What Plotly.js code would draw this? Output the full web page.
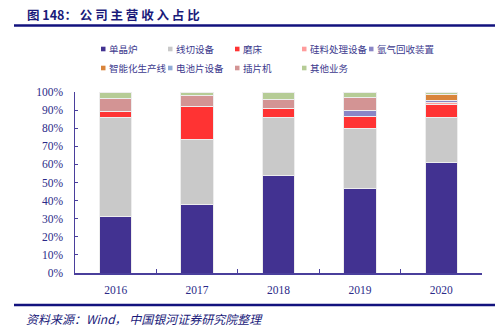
<!DOCTYPE html>
<html>
<head>
<meta charset="utf-8">
<script src="https://cdn.plot.ly/plotly-3.0.1.min.js"></script>
<style>html,body{margin:0;padding:0;background:#fff;}#chart{width:503px;height:333px;}</style>
</head>
<body>
<div id="chart"></div>
<script>
const years = ['2016', '2017', '2018', '2019', '2020'];
const seriesNames = ['单晶炉', '线切设备', '磨床', '硅料处理设备', '氩气回收装置', '智能化生产线', '电池片设备', '插片机', '其他业务'];
const danjinglu   = [31.4, 38.0, 53.6, 46.8, 61.1];
const xianqie     = [54.3, 35.9, 32.1, 32.8, 24.8];
const mochuang    = [3.8, 18.2, 5.3, 7.0, 7.2];
const guiliao     = [0, 0, 0, 0, 1.1];
const yaqi        = [0, 0, 0, 3.3, 1.1];
const zhineng     = [0, 0, 0, 0, 3.3];
const dianchipian = [0, 0, 0, 0, 0];
const chapianji   = [7.0, 5.9, 5.0, 7.2, 0];
const qita        = [3.5, 2.0, 4.0, 2.9, 1.4];
const seriesValues = [danjinglu, xianqie, mochuang, guiliao, yaqi, zhineng, dianchipian, chapianji, qita];
const colors = ['#423291', '#C9C9C9', '#FF3333', '#FF9C9C', '#8A86C6', '#D9843A', '#8EAAD6', '#D39494', '#B6CC96'];

const W = 503, H = 333;
const L = 75, R = 482, T = 92, B = 273;
const px2x = p => (p - L) / (R - L);
const py2y = p => (B - p) / (B - T);
const navy = '#2B2A88';
const cjk = '"Noto Sans CJK SC", "Noto Sans", sans-serif';
const serif = '"Liberation Serif", "DejaVu Serif", serif';

const traces = seriesNames.map((n, i) => ({
  type: 'bar', name: n, x: years, y: seriesValues[i],
  marker: {color: colors[i], line: {color: '#EDEDED', width: 1}},
  hoverinfo: 'name+y'
}));

const shapes = [
  {type: 'line', xref: 'paper', yref: 'paper', x0: px2x(14), x1: px2x(495), y0: py2y(25.5), y1: py2y(25.5), line: {color: '#12127E', width: 2.5}},
  {type: 'line', xref: 'paper', yref: 'paper', x0: px2x(14), x1: px2x(495), y0: py2y(305), y1: py2y(305), line: {color: '#12127E', width: 2.5}}
];
const annotations = [
  {xref: 'paper', yref: 'paper', x: px2x(25), y: py2y(14.5), xanchor: 'left', yanchor: 'middle', showarrow: false,
   text: '<b>图 148： 公 司 主 营 收 入 占 比</b>', font: {family: cjk, size: 12.5, color: '#1A1A7A'}},
  {xref: 'paper', yref: 'paper', x: px2x(24), y: py2y(318), xanchor: 'left', yanchor: 'middle', showarrow: false,
   text: '<i>资料来源：Wind， 中国银河证券研究院整理</i>', font: {family: cjk, size: 12, color: '#1A1A7A'}}
];
seriesNames.forEach((n, i) => {
  const col = i % 5, row = Math.floor(i / 5);
  const sx = 101 + col * 67, sy = row === 0 ? 49 : 68;
  shapes.push({type: 'rect', xref: 'paper', yref: 'paper', x0: px2x(sx), x1: px2x(sx + 4.5), y0: py2y(sy - 2.3), y1: py2y(sy + 2.3), fillcolor: colors[i], line: {width: 0}});
  annotations.push({xref: 'paper', yref: 'paper', x: px2x(sx + 5.5), y: py2y(sy), xanchor: 'left', yanchor: 'middle', showarrow: false,
    text: n, font: {family: cjk, size: 9.5, color: '#3C3A8E'}});
});

const axisColor = '#4A3F9C';
const layout = {
  width: W, height: H,
  margin: {l: L, r: W - R, t: T, b: H - B, pad: 0},
  barmode: 'stack', bargap: 0.6,
  showlegend: false,
  paper_bgcolor: '#fff', plot_bgcolor: '#fff',
  xaxis: {type: 'category', showline: true, linecolor: axisColor, linewidth: 1.5, ticks: 'inside', tickson: 'boundaries',
    ticklen: 4, tickcolor: axisColor, tickwidth: 1, showgrid: false, zeroline: false,
    tickfont: {family: serif, size: 11.5, color: navy}, ticklabelstandoff: 6},
  yaxis: {range: [0, 100], dtick: 10, ticksuffix: '%', showline: true, linecolor: axisColor, linewidth: 1.5,
    ticks: 'inside', ticklen: 3, tickcolor: axisColor, showgrid: false, zeroline: false,
    tickfont: {family: serif, size: 11.5, color: navy}, ticklabelstandoff: 8},
  shapes: shapes, annotations: annotations
};
Plotly.newPlot('chart', traces, layout, {displayModeBar: false, staticPlot: true});
</script>
</body>
</html>
